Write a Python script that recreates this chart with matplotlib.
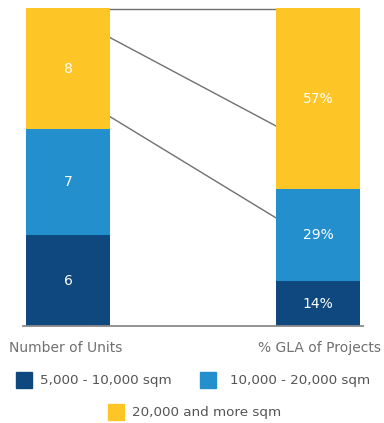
import numpy as np
import matplotlib.pyplot as plt
from matplotlib.patches import Rectangle

categories = ['Number of Units', '% GLA of Projects']
series = ['5,000 - 10,000 sqm', '10,000 - 20,000 sqm', '20,000 and more sqm']
colors = ['#0E487E', '#2390CD', '#FEC526']
units = [6, 7, 8]
gla = [14, 29, 57]
unit_labels = ['6', '7', '8']
gla_labels = ['14%', '29%', '57%']
# connector lines between the bars (share of height, left -> right)
conn_left = [0.997, 0.912, 0.664]
conn_right = [0.997, 0.629, 0.340]

W, H = 384, 423
fig = plt.figure(figsize=(W / 100, H / 100), dpi=100)
ax = fig.add_axes([23 / W, 1 - 326 / H, 340 / W, 318 / H])

shares = [np.array(units) / sum(units), np.array(gla) / sum(gla)]
labels = [unit_labels, gla_labels]
width = 0.336
x = np.arange(len(categories))

for i in range(2):
    bottom = 0
    for j in range(3):
        ax.bar(x[i], shares[i][j], width, bottom=bottom, color=colors[j], zorder=2)
        ax.text(x[i], bottom + shares[i][j] / 2, labels[i][j], color='white',
                ha='center', va='center', fontsize=10, zorder=3)
        bottom += shares[i][j]

for a, b in zip(conn_left, conn_right):
    ax.plot([x[0] + width / 2 - 0.012, x[1] - width / 2], [a, b], color='#707070', lw=1, zorder=1)

ax.set_xlim(-0.18, 1.18)
ax.set_ylim(0, 1)
for s in ['top', 'left', 'right']:
    ax.spines[s].set_visible(False)
ax.spines['bottom'].set_color('#8a8a8a')
ax.spines['bottom'].set_linewidth(1.3)
ax.set_yticks([])
ax.set_xticks([])

for xc, name in zip([66, 319], categories):
    fig.text(xc / W, 1 - 348 / H, name, ha='center', va='center', fontsize=10, color='#707070')

# legend
leg = [(16, 380, 40), (200, 380, 230), (108, 412, 132)]
for (sx, sy, tx), name, c in zip(leg, series, colors):
    fig.patches.append(Rectangle((sx / W, 1 - (sy + 8) / H), 16 / W, 16 / H,
                                 transform=fig.transFigure, color=c))
    fig.text(tx / W, 1 - sy / H, name, ha='left', va='center', fontsize=9.7, color='#555555')

fig.savefig('out.png', dpi=100)
